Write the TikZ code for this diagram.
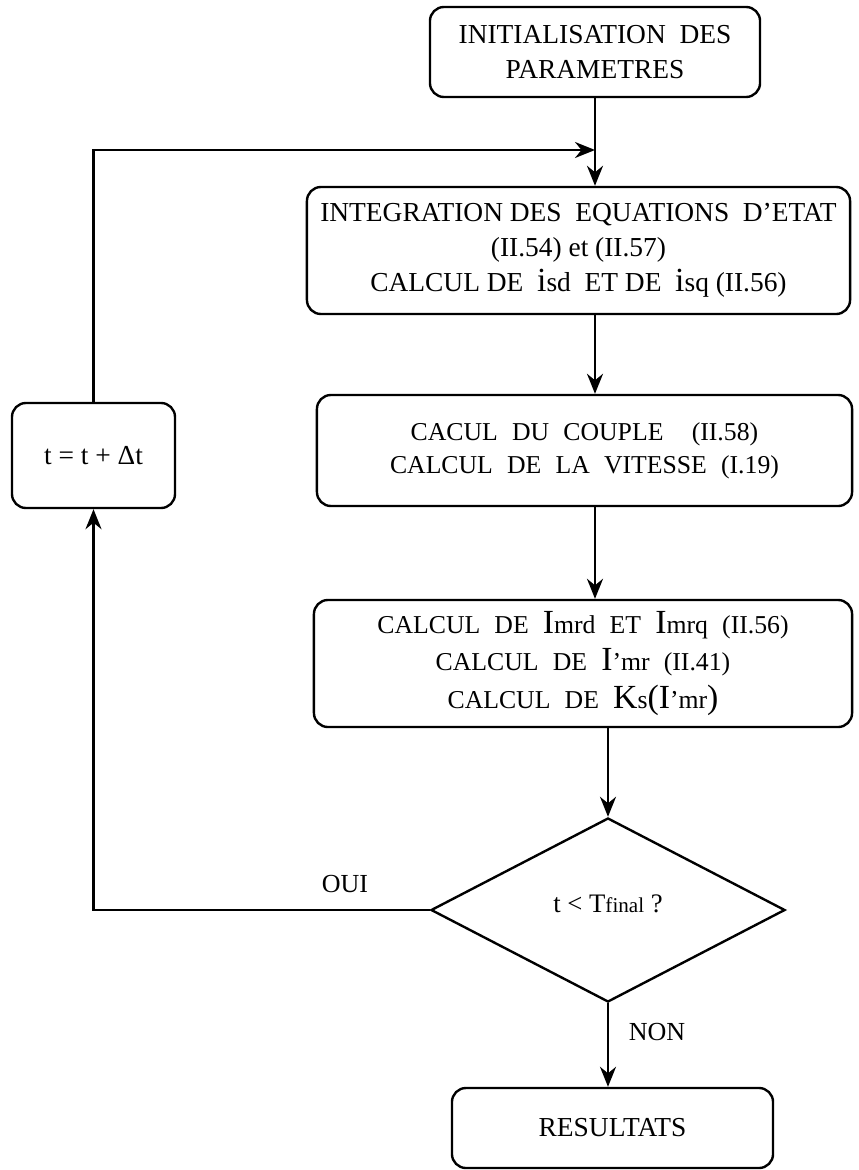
\documentclass[tikz,border=0pt]{standalone}
\usepackage{fontspec}
\setmainfont{Liberation Serif}
\newfontfamily\widefont[WordSpace=2.2]{Liberation Serif}
\usetikzlibrary{shapes.geometric,arrows.meta}

\newcommand{\bigch}[1]{{\fontsize{24}{24}\selectfont #1}}

\begin{document}
\begin{tikzpicture}[
		x=0.025cm, y=-0.025cm,
		box/.style={rectangle, rounded corners=3.5mm, draw, line width=1.7pt,
			align=center, inner sep=0pt, font=\fontsize{19.5}{25}\selectfont},
		decision/.style={diamond, draw, line width=1.7pt, inner sep=0pt,
			font=\fontsize{19}{20}\selectfont},
		arr/.style={-{Stealth[length=5mm,width=4mm]}, line width=1.7pt},
		lbl/.style={font=\fontsize{18.5}{20}\selectfont}
	]
  \useasboundingbox (0,0) rectangle (859,1170);
  \node (init) [box, minimum width=8.25cm, minimum height=2.25cm] at (595, 52)
    {INITIALISATION\ \ DES\\PARAMETRES};
  \node (integ) [box, minimum width=13.575cm, minimum height=3.175cm] at (578.5, 250.5)
    {INTEGRATION DES\ \ EQUATIONS\ \ D’ETAT\\(II.54) et (II.57)\\
     CALCUL DE\ \ \bigch{i}sd\ \ ET DE\ \ \bigch{i}sq (II.56)};
  \node (couple) [box, minimum width=13.375cm, minimum height=2.775cm,
    font=\widefont\fontsize{18.3}{23.5}\selectfont] at (584.5, 450.5)
    {CACUL DU COUPLE\ \ (II.58)\\CALCUL DE LA VITESSE (I.19)};
  \node (calc) [box, minimum width=13.45cm, minimum height=3.175cm,
    font=\widefont\fontsize{18.3}{26.5}\selectfont] at (583, 663.5)
    {CALCUL DE \bigch{I}mrd ET \bigch{I}mrq (II.56)\\
     CALCUL DE \bigch{I}’mr (II.41)\\
     CALCUL DE \bigch{K}s\bigch{(I}’mr\bigch{)}};
  \node (test) [decision, minimum width=8.85cm, minimum height=4.6cm] at (608, 910)
    {\raisebox{3mm}{t < T{\fontsize{15}{15}\selectfont final} ?}};
  \node (result) [box, minimum width=8.025cm, minimum height=2cm] at (612.5, 1128)
    {RESULTATS};
  \node (tbox) [box, minimum width=4.075cm, minimum height=2.625cm] at (93.5, 455.5)
    {t = t + Δt};
  \node (oui) [lbl] at (345, 884) {OUI};
  \node (non) [lbl] at (657, 1032) {NON};
  \coordinate (join) at (595, 150);

  \draw[arr] (init.south) -- (init.south |- integ.north);
  \draw[arr] (integ.south -| init) -- (couple.north -| init);
  \draw[arr] (couple.south -| init) -- (calc.north -| init);
  \draw[arr] (calc.south -| test) -- (test.north);
  \draw[arr] (test.south) -- (test.south |- result.north);
  \draw[arr] (test.west) -| (tbox.south);
  \draw[arr] (tbox.north) |- (join);
\end{tikzpicture}
\end{document}
